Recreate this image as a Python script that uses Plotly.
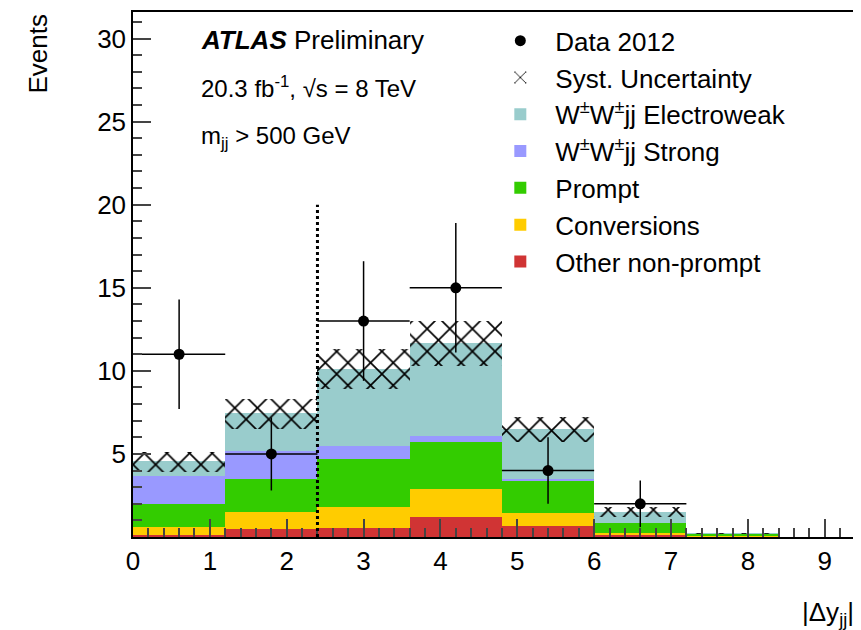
import plotly.graph_objects as go

edges = [0, 1.2, 2.4, 3.6, 4.8, 6.0, 7.2, 8.4]
centers = [(a + b) / 2 for a, b in zip(edges[:-1], edges[1:])]
width = 1.2
other = [0.1, 0.5, 0.55, 1.2, 0.65, 0.12, 0.05]
conv = [0.5, 1.0, 1.25, 1.7, 0.8, 0.13, 0.03]
prompt = [1.4, 2.0, 2.9, 2.8, 1.95, 0.6, 0.12]
strong = [1.7, 1.7, 0.8, 0.4, 0.1, 0.02, 0.0]
ewk = [0.85, 2.25, 4.6, 5.55, 3.0, 0.63, 0.02]
syst_lo = [3.9, 6.5, 8.9, 10.3, 5.7, 1.2, 0.18]
syst_hi = [5.1, 8.3, 11.3, 13.0, 7.2, 1.8, 0.24]
data_x = [0.6, 1.8, 3.0, 4.2, 5.4, 6.6]
data_y = [11, 5, 13, 15, 4, 2]
data_up = [3.3, 2.2, 3.6, 3.9, 2.0, 1.4]
data_dn = [3.3, 2.2, 3.6, 3.9, 2.0, 1.4]

fig = go.Figure()
for name, vals, col in [("Other non-prompt", other, "#d03434"),
                        ("Conversions", conv, "#ffcc00"),
                        ("Prompt", prompt, "#33cc00"),
                        ("W<sup>±</sup>W<sup>±</sup>jj Strong", strong, "#9999ff"),
                        ("W<sup>±</sup>W<sup>±</sup>jj Electroweak", ewk, "#99cccc")]:
    fig.add_bar(x=centers, y=vals, width=width, name=name, marker=dict(color=col, line_width=0))
fig.add_bar(x=centers, y=[h - l for h, l in zip(syst_hi, syst_lo)], base=syst_lo, width=width,
            name="Syst. Uncertainty", marker=dict(color="rgba(0,0,0,0)", line_width=0,
            pattern=dict(shape="x", fgcolor="black", fgopacity=1, size=16, solidity=0.2)))
fig.add_scatter(x=data_x, y=data_y, mode="markers", name="Data 2012",
                marker=dict(color="black", size=11),
                error_y=dict(type="data", array=data_up, arrayminus=data_dn, color="black", width=0, thickness=1.5),
                error_x=dict(type="constant", value=0.6, color="black", width=0, thickness=1.5))
fig.add_shape(type="line", x0=2.4, x1=2.4, y0=0, y1=20, line=dict(color="black", width=3, dash="dot"))

fig.update_layout(
    width=861, height=630, barmode="stack", bargap=0, plot_bgcolor="white", paper_bgcolor="white",
    margin=dict(l=125, r=0, t=4, b=101),
    font=dict(family="Liberation Sans, Arial", size=26, color="black"),
    legend=dict(x=0.48, y=0.99, xanchor="left", yanchor="top", traceorder="reversed",
                bgcolor="rgba(0,0,0,0)", font=dict(size=26), itemwidth=60, tracegroupgap=0),
    showlegend=True,
)
fig.update_xaxes(range=[0, 9.55], showline=True, linecolor="black", linewidth=1.5, mirror=True,
                 ticks="inside", ticklen=18, tickwidth=1.5, dtick=1, showgrid=False, zeroline=False,
                 minor=dict(ticks="inside", ticklen=9, dtick=0.2, tickwidth=1.5),
                 tickfont=dict(size=26))
fig.update_yaxes(range=[0, 31.6], showline=True, linecolor="black", linewidth=1.5, mirror=True,
                 ticks="inside", ticklen=18, tickwidth=1.5, tickvals=[5, 10, 15, 20, 25, 30], showgrid=False,
                 zeroline=False, minor=dict(ticks="inside", ticklen=9, dtick=1, tickwidth=1.5),
                 tickfont=dict(size=26))
fig.add_annotation(text="Events", xref="paper", yref="paper", x=-0.13, y=1.0, textangle=-90,
                   showarrow=False, xanchor="center", yanchor="top", font=dict(size=26))
fig.add_annotation(text="|Δy<sub>jj</sub>|", xref="paper", yref="paper", x=0.985, y=-0.11,
                   showarrow=False, xanchor="right", yanchor="top", font=dict(size=26))
fig.add_annotation(text="<b><i>ATLAS</i></b> Preliminary", xref="paper", yref="paper", x=0.09, y=0.98,
                   showarrow=False, xanchor="left", yanchor="top", font=dict(size=26))
fig.add_annotation(text="20.3 fb<sup>-1</sup>, √s = 8 TeV", xref="paper", yref="paper", x=0.09, y=0.89,
                   showarrow=False, xanchor="left", yanchor="top", font=dict(size=24))
fig.add_annotation(text="m<sub>jj</sub> > 500 GeV", xref="paper", yref="paper", x=0.09, y=0.795,
                   showarrow=False, xanchor="left", yanchor="top", font=dict(size=24))
fig.write_html("out.html")
